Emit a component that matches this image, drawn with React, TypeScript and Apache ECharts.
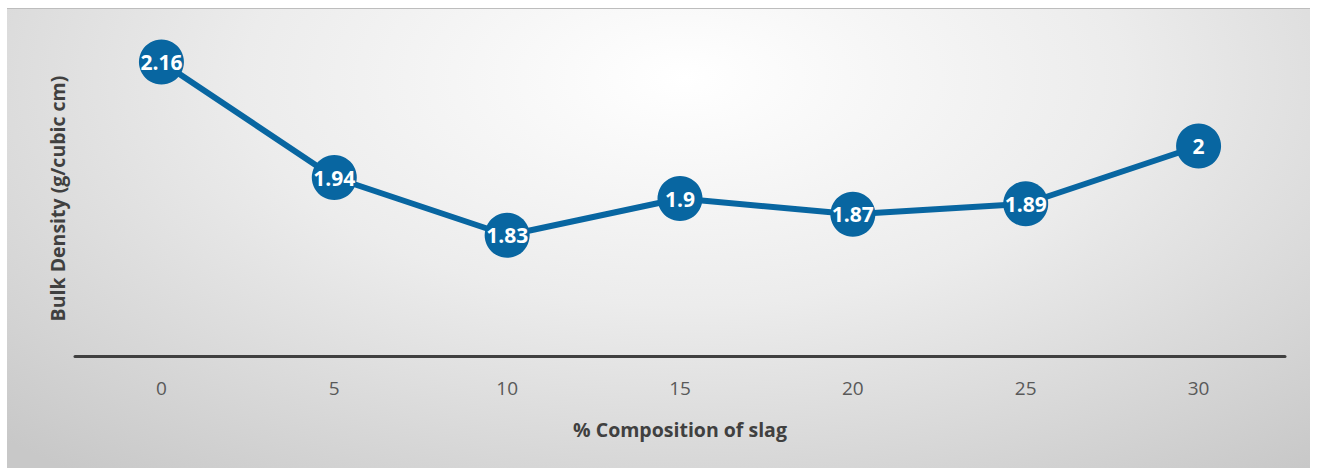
import React, { useEffect, useRef } from "react";
import * as echarts from "echarts";

const categories = ["0", "5", "10", "15", "20", "25", "30"];
const bulkDensity = [2.16, 1.94, 1.83, 1.9, 1.87, 1.89, 2];
const xAxisTitle = "% Composition of slag";
const yAxisTitle = "Bulk Density (g/cubic cm)";

export default function App() {
  const ref = useRef<HTMLDivElement>(null);
  useEffect(() => {
    if (!ref.current) return;
    const chart = echarts.init(ref.current, undefined, { renderer: "svg" });
    chart.setOption({
      animation: false,
      textStyle: { fontFamily: "Open Sans" },
      grid: { left: 68, right: 25, top: 32, bottom: 112 },
      xAxis: {
        type: "category",
        data: categories,
        boundaryGap: true,
        axisLine: { show: true, lineStyle: { color: "#404040", width: 3 } },
        axisTick: { show: false },
        axisLabel: { color: "#595959", fontSize: 19, margin: 22, fontFamily: "Open Sans" },
        name: xAxisTitle,
        nameLocation: "middle",
        nameGap: 63,
        nameTextStyle: { color: "#404040", fontSize: 19.5, fontWeight: "bold", fontFamily: "Open Sans" },
      },
      yAxis: {
        type: "value",
        min: 1.6,
        max: 2.2,
        axisLine: { show: false },
        axisTick: { show: false },
        axisLabel: { show: false },
        splitLine: { show: false },
        name: yAxisTitle,
        nameLocation: "middle",
        nameGap: 8,
        nameTextStyle: { color: "#404040", fontSize: 19.5, fontWeight: "bold", fontFamily: "Open Sans" },
      },
      series: [
        {
          type: "line",
          data: bulkDensity,
          symbol: "circle",
          symbolSize: 45,
          itemStyle: { color: "#0866a1" },
          lineStyle: { color: "#0866a1", width: 6 },
          label: {
            show: true,
            position: "inside",
            color: "#ffffff",
            fontSize: 21,
            fontWeight: "bold",
            fontFamily: "Open Sans",
          },
        },
      ],
    });
    return () => chart.dispose();
  }, []);
  return (
    <div
      ref={ref}
      style={{
        position: "absolute",
        left: 7,
        top: 8,
        width: 1303,
        height: 460,
        boxSizing: "border-box",
        borderTop: "1px solid #bdbdbd",
        background:
          "radial-gradient(ellipse 75% 110% at 52% 15%, #ffffff 0%, #ececec 45%, #c8c8c8 100%)",
      }}
    />
  );
}
